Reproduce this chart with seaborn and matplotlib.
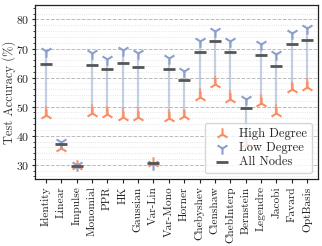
import numpy as np
import matplotlib
matplotlib.use("Agg")
import matplotlib.pyplot as plt
from matplotlib.ticker import MultipleLocator
import seaborn as sns

# Data (test accuracy in %)
methods = ['Identity', 'Linear', 'Impulse', 'Monomial', 'PPR', 'HK', 'Gaussian',
           'Var-Lin', 'Var-Mono', 'Horner', 'Chebyshev', 'Clenshaw', 'ChebInterp',
           'Bernstein', 'Legendre', 'Jacobi', 'Favard', 'OptBasis']
high_degree = [47.0, 35.9, 29.5, 47.7, 47.4, 46.6, 46.6, 30.7, 46.0, 46.9,
               53.4, 57.8, 52.8, 37.3, 51.3, 47.9, 56.0, 56.6]
low_degree = [69.2, 38.0, 29.9, 68.6, 66.5, 69.4, 68.3, 30.3, 66.9, 62.2,
              72.6, 76.2, 72.6, 52.6, 71.5, 68.0, 75.4, 77.2]
all_nodes = [64.7, 37.2, 29.6, 64.5, 62.9, 65.1, 63.7, 30.5, 62.8, 59.0,
             68.8, 72.6, 68.7, 49.6, 67.9, 63.9, 71.7, 72.9]

orange = '#fc8d62'
blue = '#8da0cb'
grey = '#555555'

sns.set_style('ticks')
plt.rcParams['font.family'] = ['cmr10', 'DejaVu Serif']
plt.rcParams['axes.formatter.use_mathtext'] = True
plt.rcParams['font.size'] = 9

fig, ax = plt.subplots(figsize=(3.22, 2.46), dpi=100)
fig.subplots_adjust(left=0.109, right=0.987, top=0.980, bottom=0.271)

x = np.arange(len(methods))
high = np.array(high_degree)
low = np.array(low_degree)

# connecting lines: mostly blue, short orange part near the high-degree end
ax.vlines(x, high, low, color=blue, alpha=0.5, lw=1.6, zorder=2)
ax.vlines(x, high, high + 0.15 * (low - high), color=orange, alpha=0.6, lw=1.6, zorder=2)

sns.scatterplot(x=x, y=high_degree, marker='2', s=80, color=orange, linewidth=1.5,
                label='High Degree', ax=ax, zorder=4)
sns.scatterplot(x=x, y=low_degree, marker='1', s=80, color=blue, linewidth=1.5,
                label='Low Degree', ax=ax, zorder=4)
sns.scatterplot(x=x, y=all_nodes, marker='_', s=85, color=grey, linewidth=2,
                label='All Nodes', ax=ax, zorder=5)

ax.set_xticks(x)
ax.set_xticklabels(methods, rotation=90)
ax.set_xlim(-0.7, len(methods) - 0.3)
ax.set_ylim(25, 85)
ax.yaxis.set_major_locator(MultipleLocator(10))
ax.yaxis.set_minor_locator(MultipleLocator(2))
ax.grid(axis='y', which='major', ls='--', color='#bbbbbb', lw=0.7)
ax.grid(axis='y', which='minor', ls=':', color='#dddddd', lw=0.6)
ax.set_axisbelow(True)
ax.set_ylabel('Test Accuracy (%)', color='#333333', fontsize=9)
ax.yaxis.set_label_coords(-0.068, 0.5)
ax.set_xlabel('')
ax.tick_params(axis='x', labelsize=8.2, colors='#222222', pad=2, length=3)
ax.tick_params(axis='y', which='major', labelsize=8.5, colors='#222222', pad=1.5, length=2.5)
ax.tick_params(axis='y', which='minor', colors='#222222', length=1.5)

for s in ax.spines.values():
    s.set_color('#222222')
    s.set_linewidth(0.9)

ax.legend(loc='lower right', fontsize=9, frameon=True, framealpha=0.8,
          handletextpad=0.3, borderpad=0.4, labelspacing=0.15, edgecolor='#cccccc')

fig.savefig('out.png', dpi=100)
